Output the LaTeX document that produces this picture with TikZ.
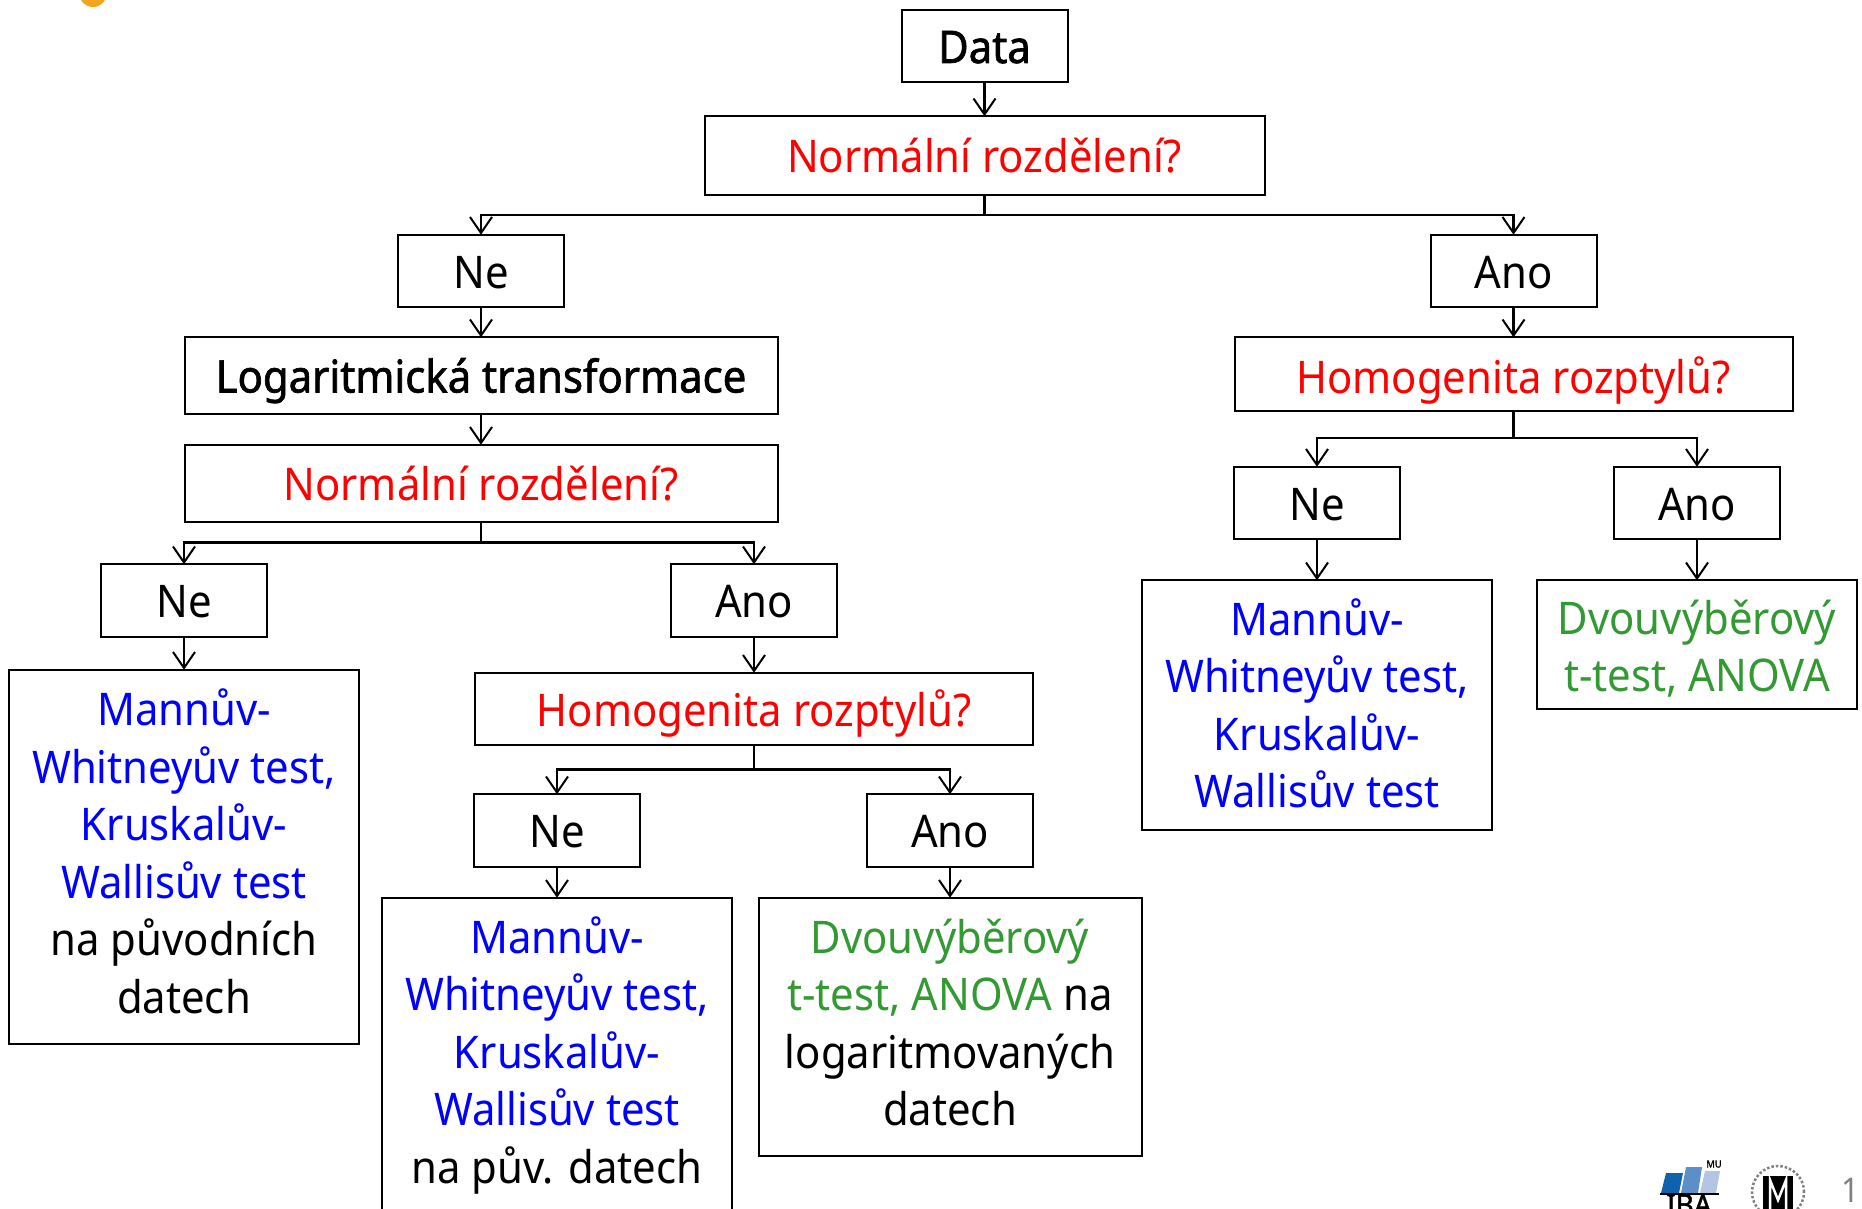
\documentclass[tikz,border=0pt]{standalone}
\usepackage{fontspec}
\usepackage{xcolor}
\usepackage{tikz}
\usetikzlibrary{arrows.meta,positioning}
\setmainfont[FakeStretch=0.93]{Noto Sans}
\newfontfamily\headfont[FakeStretch=0.93,FakeBold=1.5]{Noto Sans}
\definecolor{testgreen}{HTML}{339933}
\definecolor{ibablue}{HTML}{0F62AE}
\definecolor{ibamid}{HTML}{5C8FC8}
\definecolor{ibalight}{HTML}{B4C5E4}
\definecolor{dotorange}{HTML}{F2A51E}
\newcommand{\firstline}[1][37pt]{\rule{0pt}{#1}}
\newcommand{\lastline}{\rule[-12pt]{0pt}{12pt}}
\newcommand{\nonpar}[1]{\textcolor{blue}{#1}}
\newcommand{\parm}[1]{\textcolor{testgreen}{#1}}

\begin{document}
\begin{tikzpicture}[
    x=1pt, y=1pt,
    box/.style = {rectangle, draw=black, line width=2pt, outer sep=0pt,
                  inner sep=0pt, align=center, minimum width=166pt,
                  minimum height=72.5pt, font=\fontsize{45}{57.5}\selectfont},
    single/.style = {box, text height=44pt, text depth=10pt},
    head/.style = {single, font=\fontsize{45}{57.5}\selectfont\headfont},
    question/.style = {single, text=red},
    leaf/.style = {box, minimum width=350pt},
    arrow/.style = {-{Straight Barb[length=16pt,width=22pt,line width=2pt]}, line width=2.5pt},
    bus/.style = {line width=2.5pt}
  ]
    \useasboundingbox (0,0) rectangle (1862,-1209);

    \node[head] (data) at (984.5,-46) {Data};
    \node[question, minimum width=560pt, minimum height=78.5pt, below=34pt of data] (norma) {Normální rozdělení?};

    \node[single, below=40pt of norma, xshift=-503.5pt] (nea) {Ne};
    \node[single, below=40pt of norma, xshift=529pt] (anoa) {Ano};

    % left branch
    \node[head, minimum width=593pt, minimum height=76.5pt, below=30pt of nea] (logt) {Logaritmická transformace};
    \node[question, minimum width=593pt, minimum height=77.5pt, below=31pt of logt] (normb) {Normální rozdělení?};
    \node[single, below=42pt of normb, xshift=-297pt] (neb) {Ne};
    \node[single, below=42pt of normb, xshift=273pt] (anob) {Ano};
    \node[leaf, minimum height=374pt, below=33pt of neb] (leafa) {\firstline\nonpar{Mannův-}\\\nonpar{Whitneyův test,}\\\nonpar{Kruskalův-}\\\nonpar{Wallisův test}\\na původních\\datech\lastline};
    \node[question, minimum width=558pt, below=36pt of anob] (homob) {Homogenita rozptylů?};
    \node[single, below=49pt of homob, xshift=-197pt] (nec) {Ne};
    \node[single, below=49pt of homob, xshift=196pt] (anoc) {Ano};
    \node[leaf, minimum height=316pt, below=31pt of nec] (leafb) {\firstline\nonpar{Mannův-}\\\nonpar{Whitneyův test,}\\\nonpar{Kruskalův-}\\\nonpar{Wallisův test}\\na pův. datech\lastline};
    \node[leaf, minimum width=383pt, minimum height=258.5pt, below=31pt of anoc] (leafc) {\firstline\parm{Dvouvýběrový}\\\parm{t-test, ANOVA} na\\logaritmovaných\\datech\lastline};

    % right branch
    \node[question, minimum width=558pt, minimum height=73.5pt, text height=49pt, below=30pt of anoa] (homoa) {Homogenita rozptylů?};
    \node[single, below=56pt of homoa, xshift=-196.5pt] (ned) {Ne};
    \node[single, below=56pt of homoa, xshift=183.5pt] (anod) {Ano};
    \node[leaf, minimum height=250pt, below=41pt of ned] (leafd) {\firstline[44pt]\nonpar{Mannův-}\\\nonpar{Whitneyův test,}\\\nonpar{Kruskalův-}\\\nonpar{Wallisův test}\lastline};
    \node[leaf, minimum width=320pt, minimum height=128.5pt, below=41pt of anod] (leafe) {\firstline[49pt]\parm{Dvouvýběrový}\\\parm{t-test, ANOVA}\lastline};

    \coordinate[below=20pt of norma] (busa);
    \coordinate[below=20pt of normb] (busb);
    \coordinate[below=24pt of homob] (busc);
    \coordinate[below=27pt of homoa] (busd);

    \draw[arrow] (data) -- (norma);
    \draw[bus] (norma) -- (busa);
    \draw[arrow] (busa) -| (nea);
    \draw[arrow] (busa) -| (anoa);
    \draw[arrow] (nea) -- (logt);
    \draw[arrow] (logt) -- (normb);
    \draw[bus] (normb) -- (busb);
    \draw[arrow] (busb) -| (neb);
    \draw[arrow] (busb) -| (anob);
    \draw[arrow] (neb) -- (leafa);
    \draw[arrow] (anob) -- (homob);
    \draw[bus] (homob) -- (busc);
    \draw[arrow] (busc) -| (nec);
    \draw[arrow] (busc) -| (anoc);
    \draw[arrow] (nec) -- (leafb);
    \draw[arrow] (anoc) -- (leafc);
    \draw[arrow] (anoa) -- (homoa);
    \draw[bus] (homoa) -- (busd);
    \draw[arrow] (busd) -| (ned);
    \draw[arrow] (busd) -| (anod);
    \draw[arrow] (ned) -- (leafd);
    \draw[arrow] (anod) -- (leafe);

    % corner marks
    \begin{scope}
      \clip (0,0) rectangle (1862,-1209);
      \fill[dotorange] (93,7) circle (14);
      \fill[ibablue] (1666,-1173) -- (1683,-1173) -- (1679,-1193) -- (1661,-1193) -- cycle;
      \fill[ibamid] (1686,-1167) -- (1702,-1167) -- (1698,-1193) -- (1681,-1193) -- cycle;
      \fill[ibalight] (1705,-1171) -- (1720,-1171) -- (1716,-1193) -- (1700,-1193) -- cycle;
      \draw[line width=2pt] (1660,-1194) -- (1719,-1194);
      \node[font=\fontsize{10}{10}\selectfont\headfont, inner sep=0pt] (mumark) at (1714,-1164) {MU};
      \node[font=\fontsize{30}{30}\selectfont\headfont, inner sep=0pt, anchor=north] (ibamark) at (1689,-1194) {IBA};
      \draw[gray, line width=2.5pt, dotted] (1778,-1192) circle (26);
      \fill[black] (1763,-1176) rectangle (1793,-1209);
      \draw[white, line width=2.5pt] (1770,-1209) -- (1770,-1180) -- (1778,-1200) -- (1786,-1180) -- (1786,-1209);
      \node[font=\fontsize{34}{34}\selectfont, text=gray, anchor=base, inner sep=0pt] (pageno) at (1851,-1202) {1};
    \end{scope}
  \end{tikzpicture}
\end{document}
